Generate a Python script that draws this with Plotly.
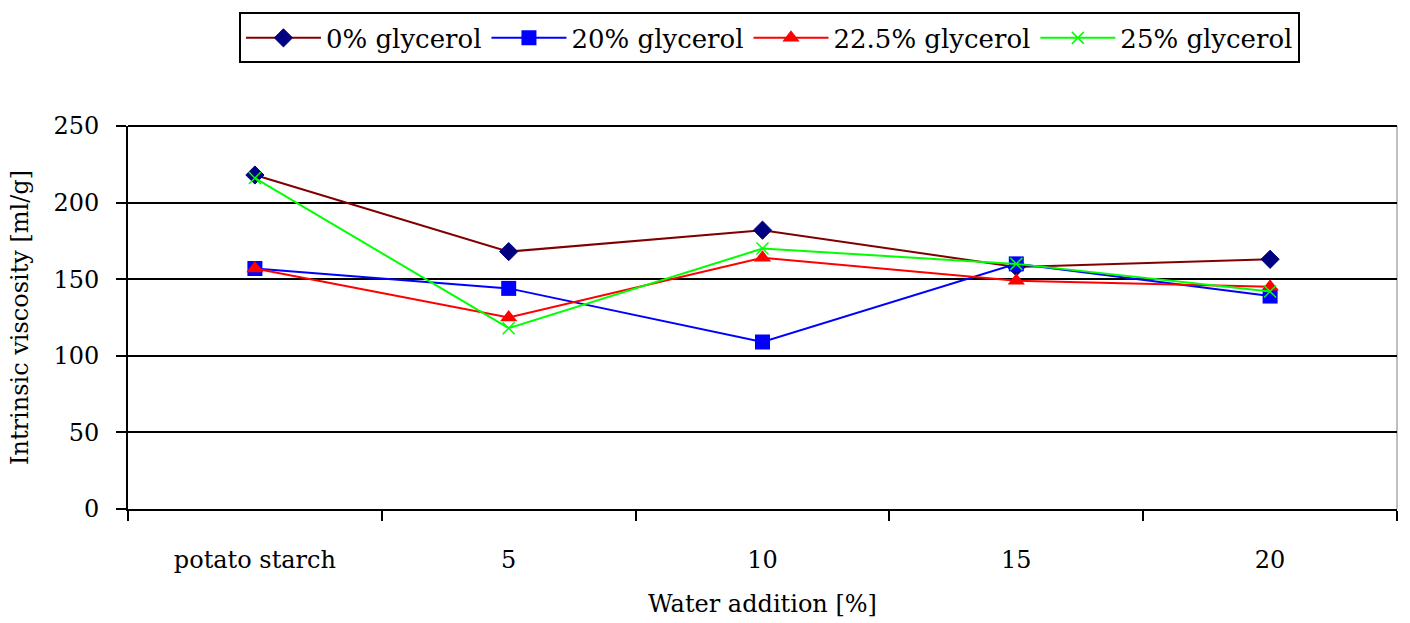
import plotly.graph_objects as go

# Water addition levels (category axis)
categories = ["potato starch", "5", "10", "15", "20"]

# Intrinsic viscosity [ml/g] per glycerol content
glycerol_0 = [218, 168, 182, 158, 163]
glycerol_20 = [157, 144, 109, 160, 139]
glycerol_22_5 = [157, 125, 164, 149, 145]
glycerol_25 = [216, 118, 170, 160, 142]

y_ticks = [0, 50, 100, 150, 200, 250]

FONT = "DejaVu Serif"

fig = go.Figure()

fig.add_trace(go.Scatter(
    x=categories, y=glycerol_0, name="0% glycerol", mode="lines+markers",
    line=dict(color="#800000", width=2),
    marker=dict(symbol="diamond", size=14, color="#000080",
                line=dict(color="#000080", width=1)),
))
fig.add_trace(go.Scatter(
    x=categories, y=glycerol_20, name="20% glycerol", mode="lines+markers",
    line=dict(color="#0000FF", width=2),
    marker=dict(symbol="square", size=15, color="#0000FF"),
))
fig.add_trace(go.Scatter(
    x=categories, y=glycerol_22_5, name="22.5% glycerol", mode="lines+markers",
    line=dict(color="#FF0000", width=2),
    marker=dict(symbol="triangle-up", size=15, color="#FF0000"),
))
fig.add_trace(go.Scatter(
    x=categories, y=glycerol_25, name="25% glycerol", mode="lines+markers",
    line=dict(color="#00FF00", width=2),
    marker=dict(symbol="x-thin", size=12, color="#00FF00",
                line=dict(color="#00FF00", width=1.5)),
))

# Grey right edge of the plot area and black top rule at 250
fig.add_shape(type="line", xref="paper", yref="paper", x0=1, x1=1, y0=0, y1=1,
              line=dict(color="#808080", width=1), layer="below")
fig.add_shape(type="line", xref="paper", yref="paper", x0=0, x1=1, y0=1, y1=1,
              line=dict(color="black", width=2), layer="below")

fig.update_layout(
    width=1410, height=623,
    margin=dict(l=128, r=13, t=126, b=114),
    paper_bgcolor="white", plot_bgcolor="white",
    font=dict(family=FONT, size=24, color="black"),
    showlegend=True,
    legend=dict(
        orientation="h",
        xref="container", yref="container",
        x=0.5457, xanchor="center", y=0.98, yanchor="top",
        bordercolor="black", borderwidth=2, bgcolor="white",
        font=dict(family=FONT, size=26, color="black"),
        itemwidth=75,
        tracegroupgap=0,
    ),
    xaxis=dict(
        type="category", range=[-0.5, 4.5], automargin=False,
        showline=True, linecolor="black", linewidth=2,
        ticks="outside", ticklen=10, tickwidth=1.5, tickcolor="black",
        tickson="boundaries", showgrid=False, zeroline=False,
        ticklabelstandoff=28,
        tickfont=dict(family=FONT, size=24),
        title=dict(text="Water addition [%]", standoff=22,
                   font=dict(family=FONT, size=24)),
    ),
    yaxis=dict(
        range=[0, 250], tickvals=y_ticks, automargin=False,
        showline=True, linecolor="black", linewidth=2,
        ticks="outside", ticklen=10, tickwidth=1.5, tickcolor="black",
        showgrid=True, gridcolor="black", gridwidth=2, zeroline=False,
        ticklabelstandoff=12,
        tickfont=dict(family=FONT, size=24),
        title=dict(text="Intrinsic viscosity [ml/g]", standoff=18,
                   font=dict(family=FONT, size=24)),
    ),
)

fig.write_html("out.html")
